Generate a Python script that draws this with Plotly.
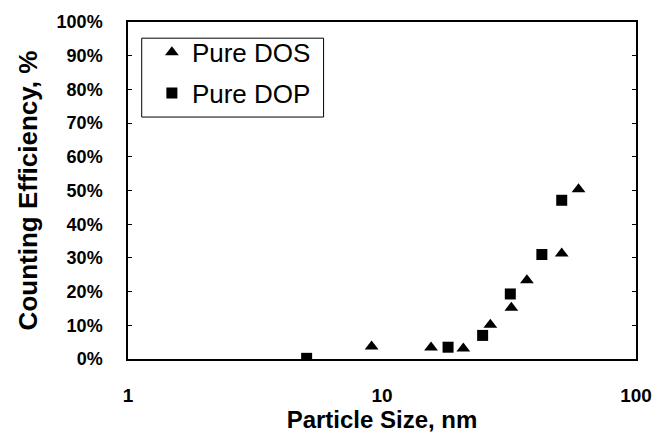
import plotly.graph_objects as go

dos_size = [9.1, 15.6, 20.9, 26.7, 32.3, 37.2, 51.0, 59.4]
dos_eff = [0.037, 0.034, 0.031, 0.102, 0.152, 0.234, 0.313, 0.504]
dop_size = [5.05, 18.2, 24.9, 32.0, 42.6, 51.0]
dop_eff = [0.002, 0.035, 0.070, 0.193, 0.310, 0.471]

x_ticks = [1, 10, 100]
y_ticks = [i / 10 for i in range(11)]

FONT = "Liberation Sans, Arial, sans-serif"

fig = go.Figure()
fig.add_trace(go.Scatter(
    x=dos_size, y=dos_eff, mode="markers", name="Pure DOS", legendgroup="a",
    marker=dict(symbol="triangle-up", size=12, color="black"),
))
fig.add_trace(go.Scatter(
    x=dop_size, y=dop_eff, mode="markers", name="Pure DOP", legendgroup="b",
    marker=dict(symbol="square", size=11, color="black"),
))

# legend frame
fig.add_shape(type="rect", xref="paper", yref="paper",
              x0=0.027, x1=0.385, y0=0.718, y1=0.952,
              line=dict(color="black", width=1), fillcolor="rgba(0,0,0,0)", layer="above")

fig.update_layout(
    width=664, height=443,
    margin=dict(l=128, r=22, t=18, b=84),
    paper_bgcolor="white", plot_bgcolor="white",
    font=dict(family=FONT, color="black", size=17),
    showlegend=True,
    legend=dict(
        x=0.047, y=0.98, xanchor="left", yanchor="top",
        borderwidth=0, bgcolor="rgba(0,0,0,0)",
        font=dict(family=FONT, size=26, color="black"),
        tracegroupgap=4, itemwidth=30,
    ),
    xaxis=dict(
        type="log", range=[0, 2],
        tickvals=x_ticks, ticktext=[str(v) for v in x_ticks],
        showgrid=False, zeroline=False,
        showline=True, linecolor="black", linewidth=1.5, mirror=True,
        ticks="", ticklabelstandoff=18,
        tickfont=dict(family=FONT, size=19, weight="bold", color="black"),
        title=dict(text="Particle Size, nm", standoff=0,
                   font=dict(family=FONT, size=24, weight="bold", color="black")),
    ),
    yaxis=dict(
        range=[0, 1],
        tickvals=y_ticks, tickformat=".0%",
        showgrid=False, zeroline=False,
        showline=True, linecolor="black", linewidth=1.5, mirror="allticks",
        ticks="inside", ticklen=4, tickcolor="black",
        ticklabelstandoff=20,
        tickfont=dict(family=FONT, size=18, weight="bold", color="black"),
        title=dict(text="Counting Efficiency, %", standoff=12,
                   font=dict(family=FONT, size=26, weight="bold", color="black")),
    ),
)

fig.write_html("out.html")
